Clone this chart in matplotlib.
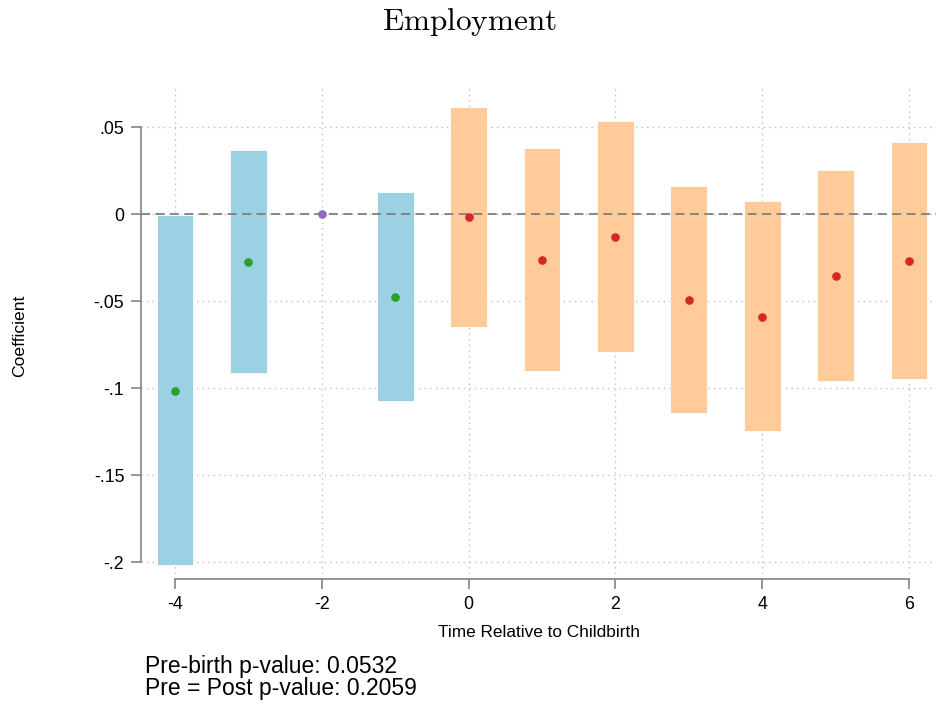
import matplotlib
matplotlib.use("Agg")
import matplotlib.pyplot as plt
import numpy as np

# Event-study estimates relative to childbirth (reference period: -2)
periods = [-4, -3, -2, -1, 0, 1, 2, 3, 4, 5, 6]
coef = [-0.1016, -0.0272, 0.0, -0.0473, -0.0017, -0.0263, -0.0130, -0.0493, -0.0588, -0.0353, -0.0266]
ci_low = [-0.2016, -0.0910, 0.0, -0.1073, -0.0646, -0.0902, -0.0793, -0.1144, -0.1244, -0.0960, -0.0945]
ci_high = [-0.0006, 0.0370, 0.0, 0.0130, 0.0615, 0.0381, 0.0536, 0.0162, 0.0075, 0.0253, 0.0416]

yticks = [0.05, 0.0, -0.05, -0.1, -0.15, -0.2]
ytick_labels = [".05", "0", "-.05", "-.1", "-.15", "-.2"]
xticks = [-4, -2, 0, 2, 4, 6]
ref_period = -2
pre_p = 0.0532
prepost_p = 0.2059

plt.rcParams["font.family"] = ["Liberation Sans", "DejaVu Sans"]
plt.rcParams["mathtext.fontset"] = "cm"
plt.rcParams["axes.unicode_minus"] = False

fig = plt.figure(figsize=(9.36, 7.07), dpi=100)
W, H = 936, 707
left, right, top, bottom = 141, 936, 88, 579
ax = fig.add_axes([left / W, 1 - bottom / H, (right - left) / W, (bottom - top) / H])

blue_bar = "#9bd1e3"
orange_bar = "#fecb99"
green = "#2ca02c"
red = "#d62728"
purple = "#9467bd"

for p, lo, hi, c in zip(periods, ci_low, ci_high, coef):
    if p == ref_period:
        ax.plot(p, c, "o", color=purple, ms=5.2, zorder=4)
        continue
    fc = blue_bar if p < 0 else orange_bar
    ax.bar(p, hi - lo, bottom=lo, width=0.5, color=fc, edgecolor="white",
           linewidth=0.6, zorder=2)
    ax.plot(p, c, "o", color=green if p < 0 else red, ms=5.2, zorder=4)

ax.axhline(0, color="#7f7f7f", linestyle=(0, (5, 3)), linewidth=1.3, zorder=3)

ax.set_xlim(-4.463, 6.368)
ax.set_ylim(-0.2096, 0.0726)
ax.set_yticks(yticks)
ax.set_yticklabels(ytick_labels)
ax.set_xticks(xticks)
ax.set_xticklabels([str(t) for t in xticks])

ax.grid(True, linestyle=(0, (1, 3)), color="#bfbfbf", linewidth=1.0, zorder=0)
ax.set_axisbelow(True)

for s in ["top", "right"]:
    ax.spines[s].set_visible(False)
for s in ["left", "bottom"]:
    ax.spines[s].set_color("#8c8c8c")
    ax.spines[s].set_linewidth(1.3)
ax.spines["left"].set_bounds(-0.2, 0.05)
ax.spines["bottom"].set_bounds(-4, 6)
ax.tick_params(axis="both", direction="out", length=7, width=1.3, color="#8c8c8c",
               labelsize=12.8, pad=5)

ax.set_xlabel("Time Relative to Childbirth", fontsize=12.4, labelpad=9)
fig.text(20 / W, 1 - 336 / H, "Coefficient", rotation=90, fontsize=12.6,
         ha="center", va="center")

fig.text(470 / W, 1 - 22 / H, r"$\mathrm{Employment}$", fontsize=22.5,
         ha="center", va="center")

fig.text(145 / W, 1 - 667 / H, f"Pre-birth p-value: {pre_p:.4f}", fontsize=16.5,
         ha="left", va="center")
fig.text(145 / W, 1 - 689 / H, f"Pre = Post p-value: {prepost_p:.4f}", fontsize=16.5,
         ha="left", va="center")

fig.savefig("out.png", dpi=100)
